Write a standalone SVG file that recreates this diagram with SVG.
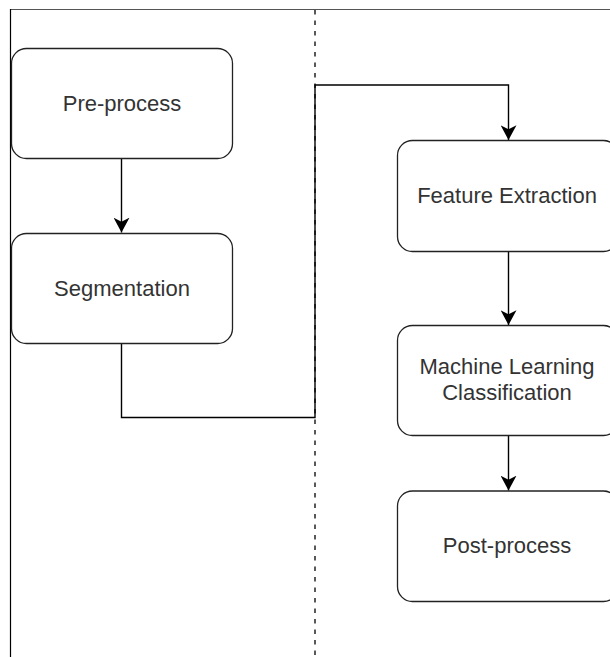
<svg xmlns="http://www.w3.org/2000/svg" width="610" height="657" viewBox="0 0 610 657">
<style>
.node rect{fill:#fff;stroke:#222;stroke-width:1.3}
.node text{font-family:"Liberation Sans",Arial,sans-serif;font-size:22px;fill:#333;text-anchor:middle}
.conn{fill:none;stroke:#000;stroke-width:1.4}
</style>
<defs>
<marker id="arr" markerUnits="userSpaceOnUse" markerWidth="16" markerHeight="16" refX="13" refY="7" orient="auto" viewBox="0 0 14 14">
<path d="M0,0 L13,7 L0,14 L3.5,7 Z" fill="#000"/>
</marker>
</defs>
<rect width="610" height="657" fill="#fff"/>
<g id="frame">
<line x1="10" y1="9.5" x2="610" y2="9.5" stroke="#555" stroke-width="1.2"/>
<line x1="10.5" y1="9" x2="10.5" y2="657" stroke="#000" stroke-width="1.2"/>
<line x1="315" y1="10" x2="315" y2="657" stroke="#000" stroke-width="1.3" stroke-dasharray="4.5 6"/>
</g>
<g id="connectors">
<path class="conn" d="M121.5,158.5 V232.5" marker-end="url(#arr)"/>
<path class="conn" d="M121.5,343.5 V417.5 H315 V85 H508.5 V140" marker-end="url(#arr)"/>
<path class="conn" d="M508.5,251.5 V325" marker-end="url(#arr)"/>
<path class="conn" d="M508.5,435.5 V490.5" marker-end="url(#arr)"/>
</g>
<g id="pre-process" class="node">
<rect x="11.5" y="48.5" width="221" height="110" rx="15"/>
<text x="122" y="110.5">Pre-process</text>
</g>
<g id="segmentation" class="node">
<rect x="11.5" y="233.5" width="221" height="110" rx="15"/>
<text x="122" y="295.5">Segmentation</text>
</g>
<g id="feature-extraction" class="node">
<rect x="397.5" y="140.5" width="221" height="111" rx="15"/>
<text x="507" y="202.5">Feature Extraction</text>
</g>
<g id="ml-classification" class="node">
<rect x="397.5" y="325.5" width="221" height="110" rx="15"/>
<text x="507" y="374">Machine Learning</text>
<text x="507" y="400">Classification</text>
</g>
<g id="post-process" class="node">
<rect x="397.5" y="491" width="221" height="110.5" rx="15"/>
<text x="507" y="553">Post-process</text>
</g>
</svg>
